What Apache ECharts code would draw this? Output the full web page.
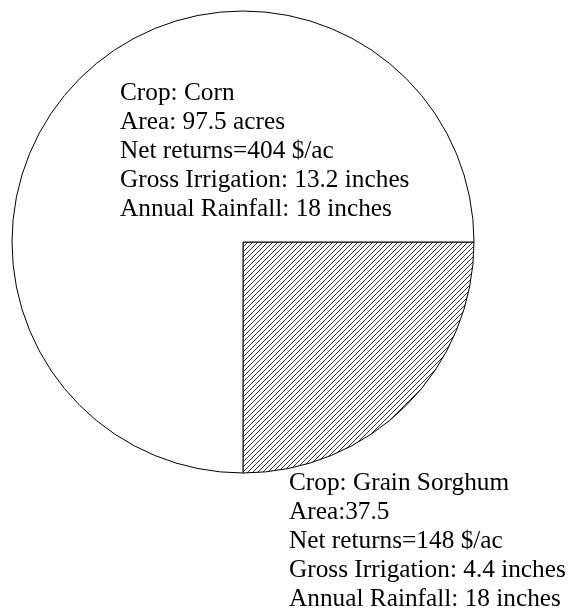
<!DOCTYPE html>
<html>
<head>
<meta charset="utf-8">
<script src="https://cdn.jsdelivr.net/npm/echarts@6/dist/echarts.min.js"></script>
<style>
  html, body { margin: 0; padding: 0; background: #fff; }
  #crop_pie { width: 569px; height: 610px; }
</style>
</head>
<body>
<div id="crop_pie"></div>
<script>
    // slice shares as drawn (sorghum wedge is a quarter of the circle)
    var crops = ['Grain Sorghum', 'Corn'];
    var shares = [25, 75];

    var cornLines = [
        'Crop: Corn',
        'Area: 97.5 acres',
        'Net returns=404 $/ac',
        'Gross Irrigation: 13.2 inches',
        'Annual Rainfall: 18 inches'
    ];
    var sorghumLines = [
        'Crop: Grain Sorghum',
        'Area:37.5',
        'Net returns=148 $/ac',
        'Gross Irrigation: 4.4 inches',
        'Annual Rainfall: 18 inches'
    ];

    // diagonal hatch tile
    function hatch() {
        var c = document.createElement('canvas');
        c.width = 5; c.height = 5;
        var ctx = c.getContext('2d');
        ctx.fillStyle = '#fff';
        ctx.fillRect(0, 0, 5, 5);
        ctx.strokeStyle = '#000';
        ctx.lineWidth = 0.8;
        ctx.beginPath();
        ctx.moveTo(-1, 6); ctx.lineTo(6, -1);
        ctx.stroke();
        return c;
    }

    var fills = [
        { image: hatch(), repeat: 'repeat' },
        '#ffffff'
    ];

    var data = crops.map(function (name, i) {
        return { name: name, value: shares[i], itemStyle: { color: fills[i] } };
    });

    var textStyle = {
        fontFamily: '"Liberation Serif", "Times New Roman", serif',
        fontSize: 25.3,
        lineHeight: 29,
        fill: '#000'
    };

    var option = {
        animation: false,
        backgroundColor: '#fff',
        series: [{
            type: 'pie',
            center: [243, 242],
            radius: 231,
            startAngle: 0,
            clockwise: true,
            label: { show: false },
            labelLine: { show: false },
            emphasis: { disabled: true },
            itemStyle: { borderColor: '#000', borderWidth: 1 },
            data: data
        }],
        graphic: [
            {
                type: 'text', left: 120, top: 79, z: 100,
                style: Object.assign({ text: cornLines.join('\n') }, textStyle)
            },
            {
                type: 'text', left: 289, top: 469, z: 100,
                style: Object.assign({ text: sorghumLines.join('\n') }, textStyle)
            }
        ]
    };

    var chart = echarts.init(document.getElementById('crop_pie'));
    chart.setOption(option);
    window.addEventListener('resize', function () {
        chart.resize();
    });
</script>
</body>
</html>
